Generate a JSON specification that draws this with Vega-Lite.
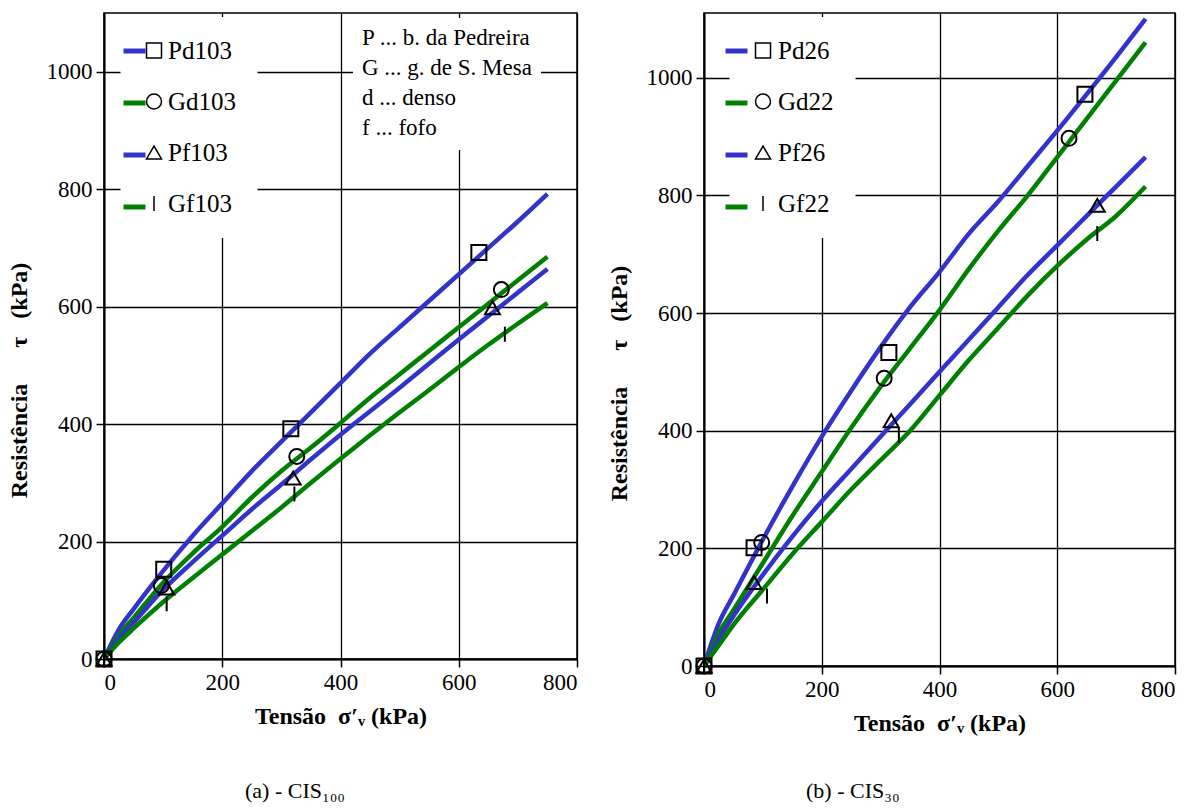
{
  "$schema": "https://vega.github.io/schema/vega-lite/v6.json",
  "padding": {"left": 6, "top": 12, "right": 10, "bottom": 5},
  "background": "white",
  "bounds": "flush",
  "spacing": 127,
  "datasets": {
    "lines": [
      {"panel": "a", "curve": "Pd103", "x": 0, "y": 0}, {"panel": "a", "curve": "Pd103", "x": 25, "y": 50}, {"panel": "a", "curve": "Pd103", "x": 50, "y": 85}, {"panel": "a", "curve": "Pd103", "x": 100, "y": 150}, {"panel": "a", "curve": "Pd103", "x": 150, "y": 210}, {"panel": "a", "curve": "Pd103", "x": 200, "y": 265}, {"panel": "a", "curve": "Pd103", "x": 250, "y": 320}, {"panel": "a", "curve": "Pd103", "x": 300, "y": 370}, {"panel": "a", "curve": "Pd103", "x": 350, "y": 420}, {"panel": "a", "curve": "Pd103", "x": 400, "y": 470}, {"panel": "a", "curve": "Pd103", "x": 450, "y": 520}, {"panel": "a", "curve": "Pd103", "x": 500, "y": 565}, {"panel": "a", "curve": "Pd103", "x": 550, "y": 610}, {"panel": "a", "curve": "Pd103", "x": 600, "y": 655}, {"panel": "a", "curve": "Pd103", "x": 650, "y": 700}, {"panel": "a", "curve": "Pd103", "x": 700, "y": 745}, {"panel": "a", "curve": "Pd103", "x": 750, "y": 792},
      {"panel": "a", "curve": "Gd103", "x": 0, "y": 0}, {"panel": "a", "curve": "Gd103", "x": 25, "y": 40}, {"panel": "a", "curve": "Gd103", "x": 50, "y": 70}, {"panel": "a", "curve": "Gd103", "x": 100, "y": 130}, {"panel": "a", "curve": "Gd103", "x": 150, "y": 180}, {"panel": "a", "curve": "Gd103", "x": 200, "y": 225}, {"panel": "a", "curve": "Gd103", "x": 250, "y": 275}, {"panel": "a", "curve": "Gd103", "x": 300, "y": 320}, {"panel": "a", "curve": "Gd103", "x": 350, "y": 360}, {"panel": "a", "curve": "Gd103", "x": 400, "y": 402}, {"panel": "a", "curve": "Gd103", "x": 450, "y": 445}, {"panel": "a", "curve": "Gd103", "x": 500, "y": 485}, {"panel": "a", "curve": "Gd103", "x": 550, "y": 525}, {"panel": "a", "curve": "Gd103", "x": 600, "y": 565}, {"panel": "a", "curve": "Gd103", "x": 650, "y": 605}, {"panel": "a", "curve": "Gd103", "x": 700, "y": 645}, {"panel": "a", "curve": "Gd103", "x": 750, "y": 685},
      {"panel": "a", "curve": "Pf103", "x": 0, "y": 0}, {"panel": "a", "curve": "Pf103", "x": 25, "y": 35}, {"panel": "a", "curve": "Pf103", "x": 50, "y": 62}, {"panel": "a", "curve": "Pf103", "x": 100, "y": 118}, {"panel": "a", "curve": "Pf103", "x": 150, "y": 165}, {"panel": "a", "curve": "Pf103", "x": 200, "y": 210}, {"panel": "a", "curve": "Pf103", "x": 250, "y": 255}, {"panel": "a", "curve": "Pf103", "x": 300, "y": 297}, {"panel": "a", "curve": "Pf103", "x": 350, "y": 340}, {"panel": "a", "curve": "Pf103", "x": 400, "y": 382}, {"panel": "a", "curve": "Pf103", "x": 450, "y": 422}, {"panel": "a", "curve": "Pf103", "x": 500, "y": 462}, {"panel": "a", "curve": "Pf103", "x": 550, "y": 503}, {"panel": "a", "curve": "Pf103", "x": 600, "y": 544}, {"panel": "a", "curve": "Pf103", "x": 650, "y": 584}, {"panel": "a", "curve": "Pf103", "x": 700, "y": 624}, {"panel": "a", "curve": "Pf103", "x": 750, "y": 664},
      {"panel": "a", "curve": "Gf103", "x": 0, "y": 0}, {"panel": "a", "curve": "Gf103", "x": 25, "y": 28}, {"panel": "a", "curve": "Gf103", "x": 50, "y": 52}, {"panel": "a", "curve": "Gf103", "x": 100, "y": 97}, {"panel": "a", "curve": "Gf103", "x": 150, "y": 138}, {"panel": "a", "curve": "Gf103", "x": 200, "y": 178}, {"panel": "a", "curve": "Gf103", "x": 250, "y": 218}, {"panel": "a", "curve": "Gf103", "x": 300, "y": 258}, {"panel": "a", "curve": "Gf103", "x": 350, "y": 300}, {"panel": "a", "curve": "Gf103", "x": 400, "y": 341}, {"panel": "a", "curve": "Gf103", "x": 450, "y": 381}, {"panel": "a", "curve": "Gf103", "x": 500, "y": 420}, {"panel": "a", "curve": "Gf103", "x": 550, "y": 458}, {"panel": "a", "curve": "Gf103", "x": 600, "y": 497}, {"panel": "a", "curve": "Gf103", "x": 650, "y": 535}, {"panel": "a", "curve": "Gf103", "x": 700, "y": 571}, {"panel": "a", "curve": "Gf103", "x": 750, "y": 606},
      {"panel": "b", "curve": "Pd26", "x": 0, "y": 0}, {"panel": "b", "curve": "Pd26", "x": 25, "y": 72}, {"panel": "b", "curve": "Pd26", "x": 50, "y": 120}, {"panel": "b", "curve": "Pd26", "x": 100, "y": 215}, {"panel": "b", "curve": "Pd26", "x": 150, "y": 305}, {"panel": "b", "curve": "Pd26", "x": 200, "y": 390}, {"panel": "b", "curve": "Pd26", "x": 250, "y": 468}, {"panel": "b", "curve": "Pd26", "x": 300, "y": 542}, {"panel": "b", "curve": "Pd26", "x": 350, "y": 610}, {"panel": "b", "curve": "Pd26", "x": 400, "y": 670}, {"panel": "b", "curve": "Pd26", "x": 450, "y": 735}, {"panel": "b", "curve": "Pd26", "x": 500, "y": 790}, {"panel": "b", "curve": "Pd26", "x": 550, "y": 850}, {"panel": "b", "curve": "Pd26", "x": 600, "y": 910}, {"panel": "b", "curve": "Pd26", "x": 650, "y": 972}, {"panel": "b", "curve": "Pd26", "x": 700, "y": 1035}, {"panel": "b", "curve": "Pd26", "x": 750, "y": 1100},
      {"panel": "b", "curve": "Gd22", "x": 0, "y": 0}, {"panel": "b", "curve": "Gd22", "x": 25, "y": 55}, {"panel": "b", "curve": "Gd22", "x": 50, "y": 95}, {"panel": "b", "curve": "Gd22", "x": 100, "y": 175}, {"panel": "b", "curve": "Gd22", "x": 150, "y": 255}, {"panel": "b", "curve": "Gd22", "x": 200, "y": 330}, {"panel": "b", "curve": "Gd22", "x": 250, "y": 405}, {"panel": "b", "curve": "Gd22", "x": 300, "y": 475}, {"panel": "b", "curve": "Gd22", "x": 350, "y": 540}, {"panel": "b", "curve": "Gd22", "x": 400, "y": 605}, {"panel": "b", "curve": "Gd22", "x": 450, "y": 675}, {"panel": "b", "curve": "Gd22", "x": 500, "y": 740}, {"panel": "b", "curve": "Gd22", "x": 550, "y": 800}, {"panel": "b", "curve": "Gd22", "x": 600, "y": 865}, {"panel": "b", "curve": "Gd22", "x": 650, "y": 930}, {"panel": "b", "curve": "Gd22", "x": 700, "y": 995}, {"panel": "b", "curve": "Gd22", "x": 750, "y": 1060},
      {"panel": "b", "curve": "Pf26", "x": 0, "y": 0}, {"panel": "b", "curve": "Pf26", "x": 25, "y": 45}, {"panel": "b", "curve": "Pf26", "x": 50, "y": 85}, {"panel": "b", "curve": "Pf26", "x": 100, "y": 155}, {"panel": "b", "curve": "Pf26", "x": 150, "y": 220}, {"panel": "b", "curve": "Pf26", "x": 200, "y": 280}, {"panel": "b", "curve": "Pf26", "x": 250, "y": 335}, {"panel": "b", "curve": "Pf26", "x": 300, "y": 390}, {"panel": "b", "curve": "Pf26", "x": 350, "y": 445}, {"panel": "b", "curve": "Pf26", "x": 400, "y": 500}, {"panel": "b", "curve": "Pf26", "x": 450, "y": 555}, {"panel": "b", "curve": "Pf26", "x": 500, "y": 610}, {"panel": "b", "curve": "Pf26", "x": 550, "y": 665}, {"panel": "b", "curve": "Pf26", "x": 600, "y": 715}, {"panel": "b", "curve": "Pf26", "x": 650, "y": 765}, {"panel": "b", "curve": "Pf26", "x": 700, "y": 815}, {"panel": "b", "curve": "Pf26", "x": 750, "y": 865},
      {"panel": "b", "curve": "Gf22", "x": 0, "y": 0}, {"panel": "b", "curve": "Gf22", "x": 25, "y": 35}, {"panel": "b", "curve": "Gf22", "x": 50, "y": 70}, {"panel": "b", "curve": "Gf22", "x": 100, "y": 130}, {"panel": "b", "curve": "Gf22", "x": 150, "y": 190}, {"panel": "b", "curve": "Gf22", "x": 200, "y": 245}, {"panel": "b", "curve": "Gf22", "x": 250, "y": 300}, {"panel": "b", "curve": "Gf22", "x": 300, "y": 350}, {"panel": "b", "curve": "Gf22", "x": 350, "y": 400}, {"panel": "b", "curve": "Gf22", "x": 400, "y": 460}, {"panel": "b", "curve": "Gf22", "x": 450, "y": 520}, {"panel": "b", "curve": "Gf22", "x": 500, "y": 575}, {"panel": "b", "curve": "Gf22", "x": 550, "y": 630}, {"panel": "b", "curve": "Gf22", "x": 600, "y": 680}, {"panel": "b", "curve": "Gf22", "x": 650, "y": 725}, {"panel": "b", "curve": "Gf22", "x": 700, "y": 765}, {"panel": "b", "curve": "Gf22", "x": 750, "y": 815}
    ],
    "points": [
      {"panel": "a", "sample": "Pd103", "x": 0, "y": 0}, {"panel": "a", "sample": "Pd103", "x": 101, "y": 153}, {"panel": "a", "sample": "Pd103", "x": 316, "y": 392}, {"panel": "a", "sample": "Pd103", "x": 634, "y": 692},
      {"panel": "a", "sample": "Gd103", "x": 0, "y": 0}, {"panel": "a", "sample": "Gd103", "x": 97, "y": 125}, {"panel": "a", "sample": "Gd103", "x": 326, "y": 345}, {"panel": "a", "sample": "Gd103", "x": 672, "y": 629},
      {"panel": "a", "sample": "Pf103", "x": 0, "y": 0}, {"panel": "a", "sample": "Pf103", "x": 106, "y": 121}, {"panel": "a", "sample": "Pf103", "x": 320, "y": 308}, {"panel": "a", "sample": "Pf103", "x": 657, "y": 598},
      {"panel": "a", "sample": "Gf103", "x": 0, "y": 0}, {"panel": "a", "sample": "Gf103", "x": 106, "y": 94}, {"panel": "a", "sample": "Gf103", "x": 322, "y": 281}, {"panel": "a", "sample": "Gf103", "x": 678, "y": 553},
      {"panel": "b", "sample": "Pd26", "x": 0, "y": 0}, {"panel": "b", "sample": "Pd26", "x": 85, "y": 201}, {"panel": "b", "sample": "Pd26", "x": 314, "y": 533}, {"panel": "b", "sample": "Pd26", "x": 647, "y": 972},
      {"panel": "b", "sample": "Gd22", "x": 0, "y": 0}, {"panel": "b", "sample": "Gd22", "x": 98, "y": 210}, {"panel": "b", "sample": "Gd22", "x": 306, "y": 489}, {"panel": "b", "sample": "Gd22", "x": 620, "y": 897},
      {"panel": "b", "sample": "Pf26", "x": 0, "y": 0}, {"panel": "b", "sample": "Pf26", "x": 85, "y": 142}, {"panel": "b", "sample": "Pf26", "x": 318, "y": 417}, {"panel": "b", "sample": "Pf26", "x": 668, "y": 783},
      {"panel": "b", "sample": "Gf22", "x": 0, "y": 0}, {"panel": "b", "sample": "Gf22", "x": 107, "y": 119}, {"panel": "b", "sample": "Gf22", "x": 331, "y": 392}, {"panel": "b", "sample": "Gf22", "x": 668, "y": 735}
    ]
  },
  "hconcat": [
    {
      "width": 473,
      "height": 646,
      "title": {"text": "(a) - CIS₁₀₀", "orient": "bottom", "anchor": "start", "frame": "group", "dx": 141, "offset": 53, "fontSize": 22, "fontWeight": "normal", "font": "Liberation Serif", "color": "black"},
      "layer": [
        {
          "data": {"name": "lines"},
          "transform": [{"filter": "datum.panel == 'a'"}],
          "mark": {"type": "line", "strokeWidth": 4.5, "interpolate": "monotone", "clip": true},
          "encoding": {
            "x": {"field": "x", "type": "quantitative", "scale": {"domain": [0, 800], "nice": false}, "axis": {"values": [0, 200, 400, 600, 800], "title": "Tensão\u00a0\u00a0σ′ᵥ\u00a0(kPa)", "titlePadding": 10}},
            "y": {"field": "y", "type": "quantitative", "scale": {"domain": [0, 1100], "nice": false}, "axis": {"values": [0, 200, 400, 600, 800, 1000], "title": "Resistência\u00a0\u00a0\u00a0\u00a0\u00a0\u00a0τ\u00a0\u00a0\u00a0(kPa)", "titleY": 367, "titlePadding": 15}},
            "color": {"field": "curve", "type": "nominal", "scale": {"domain": ["Pd103", "Gd103", "Pf103", "Gf103"], "range": ["#3333cc", "#008000", "#3333cc", "#008000"]},
              "legend": {"orient": "none", "legendX": 17, "legendY": 24.5, "title": null, "symbolType": "stroke", "symbolSize": 484, "symbolStrokeWidth": 5, "labelFontSize": 25, "labelExpr": "''", "labelOffset": 0, "rowPadding": 25, "padding": 0, "zindex": 1}}
          }
        },
        {
          "data": {"name": "points"},
          "transform": [{"filter": "datum.panel == 'a'"}],
          "mark": {"type": "point", "filled": false, "stroke": "black", "strokeWidth": 2, "size": 225, "opacity": 1, "clip": false},
          "encoding": {
            "x": {"field": "x", "type": "quantitative"},
            "y": {"field": "y", "type": "quantitative"},
            "shape": {"field": "sample", "type": "nominal", "sort": ["Pd103", "Gd103", "Pf103", "Gf103"], "scale": {"range": ["square", "circle", "triangle-up", "M0,-1L0,1"]},
              "legend": {"orient": "none", "legendX": 16.5, "legendY": 4, "title": null, "symbolSize": 225, "labelFont": "Liberation Serif", "labelColor": "black", "labelFontSize": 25, "labelOffset": 1.5, "rowPadding": 25, "padding": 21, "fillColor": "white", "zindex": 0}},
            "opacity": {"field": "panel", "type": "ordinal", "scale": {"range": [1, 1]},
              "legend": {"orient": "none", "legendX": 249, "legendY": 5, "title": ["P ... b. da Pedreira", "G ... g. de S. Mesa", "d ... denso", "f ... fofo"], "titleFont": "Liberation Serif", "titleFontSize": 23, "titleFontWeight": "normal", "titleLineHeight": 30, "titleColor": "black", "titlePadding": 0, "symbolOpacity": 0, "symbolSize": 0, "symbolStrokeWidth": 0, "symbolStrokeColor": "white", "symbolFillColor": "white", "labelExpr": "''", "labelFontSize": 1, "labelColor": "white", "labelOpacity": 0, "rowPadding": 0, "padding": 9, "fillColor": "white", "zindex": 0}}
          }
        }
      ]
    },
    {
      "width": 471,
      "height": 653,
      "title": {"text": "(b) - CIS₃₀", "orient": "bottom", "anchor": "start", "frame": "group", "dx": 102, "offset": 46, "fontSize": 22, "fontWeight": "normal", "font": "Liberation Serif", "color": "black"},
      "layer": [
        {
          "data": {"name": "lines"},
          "transform": [{"filter": "datum.panel == 'b'"}],
          "mark": {"type": "line", "strokeWidth": 4.5, "interpolate": "monotone", "clip": true},
          "encoding": {
            "x": {"field": "x", "type": "quantitative", "scale": {"domain": [0, 800], "nice": false}, "axis": {"values": [0, 200, 400, 600, 800], "title": "Tensão\u00a0\u00a0σ′ᵥ\u00a0(kPa)", "titlePadding": 10}},
            "y": {"field": "y", "type": "quantitative", "scale": {"domain": [0, 1110], "nice": false}, "axis": {"values": [0, 200, 400, 600, 800, 1000], "title": "Resistência\u00a0\u00a0\u00a0\u00a0\u00a0\u00a0τ\u00a0\u00a0\u00a0(kPa)", "titleY": 370, "titlePadding": 15}},
            "color": {"field": "curve", "type": "nominal", "scale": {"domain": ["Pd26", "Gd22", "Pf26", "Gf22"], "range": ["#3333cc", "#008000", "#3333cc", "#008000"]},
              "legend": {"orient": "none", "legendX": 19, "legendY": 24.5, "title": null, "symbolType": "stroke", "symbolSize": 484, "symbolStrokeWidth": 5, "labelFontSize": 25, "labelExpr": "''", "labelOffset": 0, "rowPadding": 25, "padding": 0, "zindex": 1}}
          }
        },
        {
          "data": {"name": "points"},
          "transform": [{"filter": "datum.panel == 'b'"}],
          "mark": {"type": "point", "filled": false, "stroke": "black", "strokeWidth": 2, "size": 225, "opacity": 1, "clip": false},
          "encoding": {
            "x": {"field": "x", "type": "quantitative"},
            "y": {"field": "y", "type": "quantitative"},
            "shape": {"field": "sample", "type": "nominal", "sort": ["Pd26", "Gd22", "Pf26", "Gf22"], "scale": {"range": ["square", "circle", "triangle-up", "M0,-1L0,1"]},
              "legend": {"orient": "none", "legendX": 25.5, "legendY": 4, "title": null, "symbolSize": 225, "labelFont": "Liberation Serif", "labelColor": "black", "labelFontSize": 25, "labelOffset": 2.5, "rowPadding": 25, "padding": 21, "fillColor": "white", "zindex": 0}}
          }
        }
      ]
    }
  ],
  "resolve": {
    "scale": {"x": "independent", "y": "independent", "color": "independent", "shape": "independent", "opacity": "independent"},
    "legend": {"color": "independent", "shape": "independent", "opacity": "independent"}
  },
  "config": {
    "font": "Liberation Serif",
    "view": {"stroke": "black", "strokeWidth": 1.5},
    "axis": {
      "domainColor": "black", "domainWidth": 2, "tickColor": "black", "tickWidth": 1.5, "tickSize": 8,
      "grid": true, "gridColor": "black", "gridWidth": 1.3, "gridOpacity": 1,
      "labelFont": "Liberation Serif", "labelFontSize": 23, "labelColor": "black", "labelPadding": 4, "format": "d",
      "titleFont": "Liberation Serif", "titleFontSize": 24, "titleFontWeight": "bold", "titleColor": "black"
    },
    "legend": {"labelFont": "Liberation Serif", "labelColor": "black"}
  }
}
